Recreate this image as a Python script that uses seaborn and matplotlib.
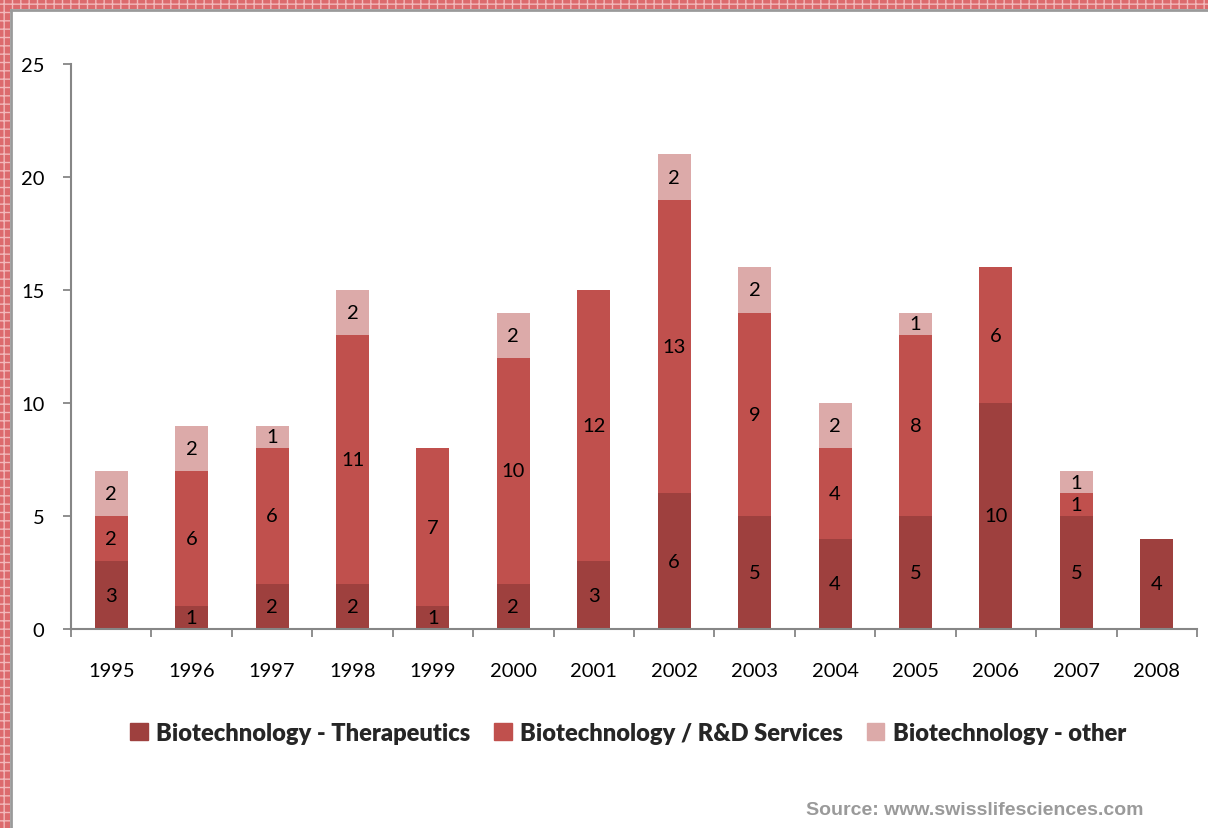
import matplotlib
matplotlib.use("Agg")
import matplotlib.pyplot as plt
import matplotlib.patches as mpatches
import seaborn as sns
import pandas as pd
import numpy as np

years = ["1995", "1996", "1997", "1998", "1999", "2000", "2001",
         "2002", "2003", "2004", "2005", "2006", "2007", "2008"]
therapeutics = [3, 1, 2, 2, 1, 2, 3, 6, 5, 4, 5, 10, 5, 4]
rd_services = [2, 6, 6, 11, 7, 10, 12, 13, 9, 4, 8, 6, 1, 0]
other = [2, 2, 1, 2, 0, 2, 0, 2, 2, 2, 1, 0, 1, 0]
series_names = ["Biotechnology - Therapeutics", "Biotechnology / R&D Services",
                "Biotechnology - other"]
y_ticks = [0, 5, 10, 15, 20, 25]

colors = ["#9E403E", "#C0504D", "#DCAAA9"]

sns.set_theme(style="white")
plt.rcParams["font.family"] = ["Lato", "DejaVu Sans"]
plt.rcParams["hatch.color"] = "#F2B8BA"
plt.rcParams["hatch.linewidth"] = 1.0

fig = plt.figure(figsize=(12.08, 8.29), dpi=100)
ax = fig.add_axes([71/1208, 1-630/829, (1197-71)/1208, (630-65)/829])

df = pd.DataFrame({"year": years, "t": therapeutics, "r": rd_services, "o": other})
series = [np.array(therapeutics), np.array(rd_services), np.array(other)]
bottom = np.zeros(len(years))
for vals, col in zip(series, colors):
    sns.barplot(x=df["year"], y=vals, color=col, width=0.41, bottom=bottom,
                ax=ax, saturation=1, linewidth=0)
    for i, v in enumerate(vals):
        if v > 0:
            ax.text(i, bottom[i] + v / 2, str(v), ha="center", va="center",
                    fontsize=14.5, color="black")
    bottom = bottom + vals

ax.set_ylim(0, 25)
ax.set_xlim(-0.5, len(years) - 0.5)
ax.set_yticks(y_ticks)
ax.set_xlabel("")
ax.set_ylabel("")
for s in ["top", "right"]:
    ax.spines[s].set_visible(False)
for s in ["left", "bottom"]:
    ax.spines[s].set_color("#868686")
    ax.spines[s].set_linewidth(1.5)
ax.tick_params(axis="y", which="major", length=6, color="#868686", width=1.3,
               labelsize=14.5, pad=13, left=True)
ax.tick_params(axis="x", which="major", length=0, labelsize=14.5, pad=24)
ax.set_xticks(np.arange(-0.5, len(years), 1), minor=True)
ax.tick_params(axis="x", which="minor", length=6, color="#868686", width=1.3,
               bottom=True)
for lab in ax.get_xticklabels() + ax.get_yticklabels():
    lab.set_color("black")

handles = [mpatches.Patch(color=c, label=n) for c, n in zip(colors, series_names)]
fig.legend(handles=handles, loc="center", bbox_to_anchor=(0.52, 1-734/829),
           ncol=3, frameon=False, handlelength=0.75, handleheight=0.75,
           handletextpad=0.35, columnspacing=1.0,
           prop={"family": "Lato", "weight": "heavy", "size": 17})

fig.text(1143/1208, 1-811/829, "Source: www.swisslifesciences.com", ha="right",
         va="center", fontsize=14, fontweight="bold", color="#9A9A9A",
         family="Liberation Sans")

# decorative border strips (top and left)
fig.patches.append(mpatches.Rectangle((0, 1-10/829), 1, 10/829, transform=fig.transFigure,
                                      facecolor="#DC6A6D", edgecolor="#F2B8BA", hatch="++",
                                      linewidth=0, zorder=5))
fig.patches.append(mpatches.Rectangle((0, 0), 10/1208, 1, transform=fig.transFigure,
                                      facecolor="#DC6A6D", edgecolor="#F2B8BA", hatch="++",
                                      linewidth=0, zorder=5))
fig.lines.append(plt.Line2D([10/1208, 1], [1-11/829, 1-11/829], transform=fig.transFigure,
                            color="#9A9A9A", linewidth=2))
fig.lines.append(plt.Line2D([11/1208, 11/1208], [0, 1-11/829], transform=fig.transFigure,
                            color="#9A9A9A", linewidth=2))

fig.savefig("out.png", dpi=100)
